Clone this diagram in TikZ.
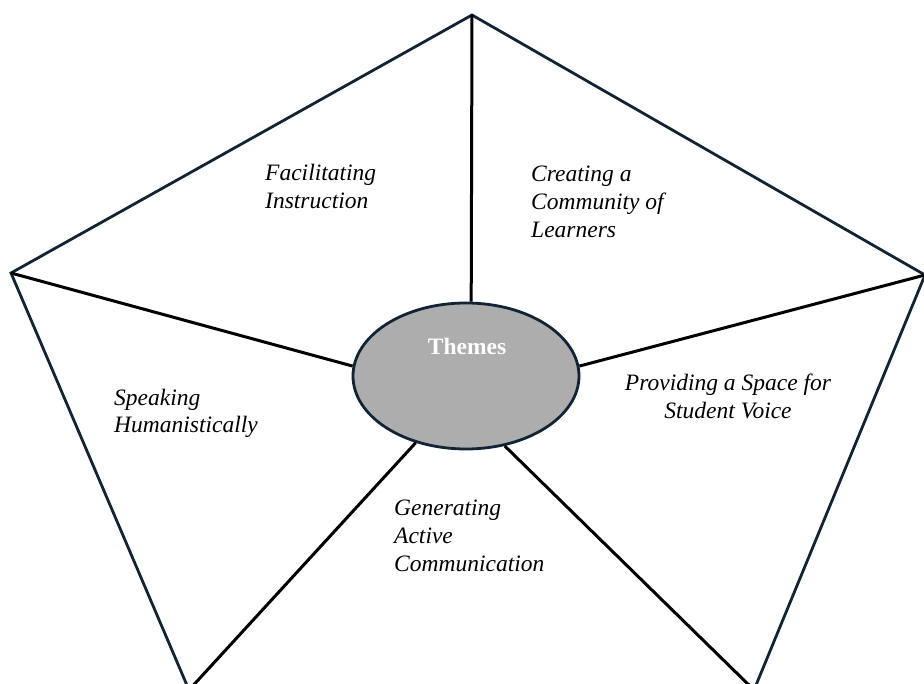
\documentclass[tikz,border=0pt]{standalone}
\usepackage{fontspec}
\setmainfont{Liberation Serif}
\usetikzlibrary{shapes.geometric}
\definecolor{outl}{RGB}{18,36,52}
\definecolor{ellgray}{RGB}{173,173,173}
\begin{document}
\begin{tikzpicture}[x=1pt,y=-1pt,
  edge/.style={draw=outl,line width=2.8pt,line join=miter},
  divider/.style={draw=black,line width=3pt},
  theme/.style={font=\fontsize{23.5}{28}\selectfont\itshape,inner sep=0pt,align=left,anchor=base west},
  center/.style={ellipse,draw=outl,line width=2.8pt,fill=ellgray,minimum width=226pt,minimum height=146pt,inner sep=0pt}]
\useasboundingbox (0,0) rectangle (924,684);
\clip (0,0) rectangle (924,684);
\coordinate (top) at (472,15);
\coordinate (left) at (11,273);
\coordinate (right) at (925,275);
\coordinate (bl) at (189,690);
\coordinate (br) at (754,690);
\node[center] (ell) at (466,376) {};
\node[font=\fontsize{23.5}{28}\selectfont\bfseries,text=white,inner sep=0pt,anchor=base] (themes) at (467,355) {Themes};
\draw[edge] (top) -- (right) -- (br) -- (bl) -- (left) -- cycle;
\draw[divider] (top) -- (ell.86);
\draw[divider] (left) -- (ell.175);
\draw[divider] (right) -- (ell.5);
\draw[divider] (bl) -- (ell.233);
\draw[divider] (br) -- (ell.299);
\node[theme] (fi) at (265,209) {Facilitating\\Instruction};
\node[theme] (cc) at (531,238) {Creating a\\Community of\\Learners};
\node[theme] (sh) at (114,433) {Speaking\\Humanistically};
\node[theme,align=center,anchor=base] (ps) at (728,419) {Providing a Space for\\Student Voice};
\node[theme] (ga) at (394,571) {Generating\\Active\\Communication};
\end{tikzpicture}
\end{document}
